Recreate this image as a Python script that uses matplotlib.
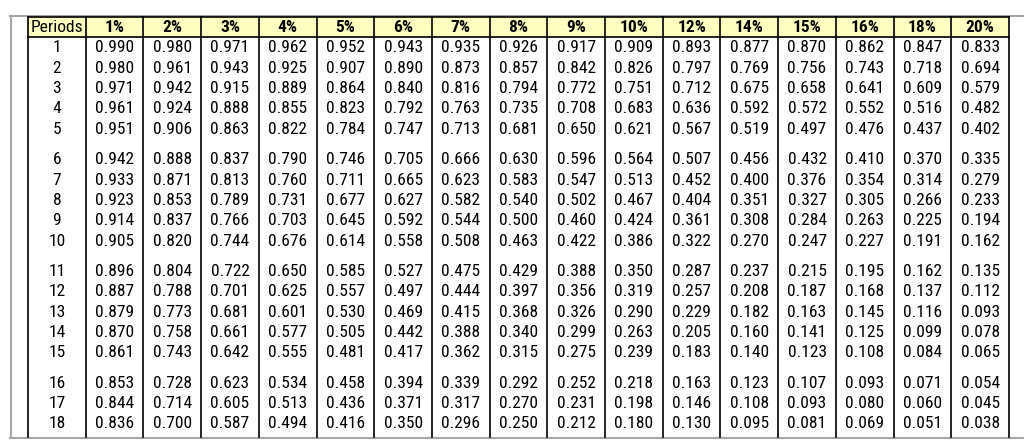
import matplotlib.pyplot as plt
from matplotlib.patches import Rectangle

plt.rcParams['font.family'] = ['Roboto Condensed', 'Liberation Sans', 'DejaVu Sans']

rates = ['1%', '2%', '3%', '4%', '5%', '6%', '7%', '8%', '9%', '10%',
         '12%', '14%', '15%', '16%', '18%', '20%']
periods = list(range(1, 19))

# present value factors, one row per period
pv = [
    [0.990, 0.980, 0.971, 0.962, 0.952, 0.943, 0.935, 0.926, 0.917, 0.909, 0.893, 0.877, 0.870, 0.862, 0.847, 0.833],
    [0.980, 0.961, 0.943, 0.925, 0.907, 0.890, 0.873, 0.857, 0.842, 0.826, 0.797, 0.769, 0.756, 0.743, 0.718, 0.694],
    [0.971, 0.942, 0.915, 0.889, 0.864, 0.840, 0.816, 0.794, 0.772, 0.751, 0.712, 0.675, 0.658, 0.641, 0.609, 0.579],
    [0.961, 0.924, 0.888, 0.855, 0.823, 0.792, 0.763, 0.735, 0.708, 0.683, 0.636, 0.592, 0.572, 0.552, 0.516, 0.482],
    [0.951, 0.906, 0.863, 0.822, 0.784, 0.747, 0.713, 0.681, 0.650, 0.621, 0.567, 0.519, 0.497, 0.476, 0.437, 0.402],
    [0.942, 0.888, 0.837, 0.790, 0.746, 0.705, 0.666, 0.630, 0.596, 0.564, 0.507, 0.456, 0.432, 0.410, 0.370, 0.335],
    [0.933, 0.871, 0.813, 0.760, 0.711, 0.665, 0.623, 0.583, 0.547, 0.513, 0.452, 0.400, 0.376, 0.354, 0.314, 0.279],
    [0.923, 0.853, 0.789, 0.731, 0.677, 0.627, 0.582, 0.540, 0.502, 0.467, 0.404, 0.351, 0.327, 0.305, 0.266, 0.233],
    [0.914, 0.837, 0.766, 0.703, 0.645, 0.592, 0.544, 0.500, 0.460, 0.424, 0.361, 0.308, 0.284, 0.263, 0.225, 0.194],
    [0.905, 0.820, 0.744, 0.676, 0.614, 0.558, 0.508, 0.463, 0.422, 0.386, 0.322, 0.270, 0.247, 0.227, 0.191, 0.162],
    [0.896, 0.804, 0.722, 0.650, 0.585, 0.527, 0.475, 0.429, 0.388, 0.350, 0.287, 0.237, 0.215, 0.195, 0.162, 0.135],
    [0.887, 0.788, 0.701, 0.625, 0.557, 0.497, 0.444, 0.397, 0.356, 0.319, 0.257, 0.208, 0.187, 0.168, 0.137, 0.112],
    [0.879, 0.773, 0.681, 0.601, 0.530, 0.469, 0.415, 0.368, 0.326, 0.290, 0.229, 0.182, 0.163, 0.145, 0.116, 0.093],
    [0.870, 0.758, 0.661, 0.577, 0.505, 0.442, 0.388, 0.340, 0.299, 0.263, 0.205, 0.160, 0.141, 0.125, 0.099, 0.078],
    [0.861, 0.743, 0.642, 0.555, 0.481, 0.417, 0.362, 0.315, 0.275, 0.239, 0.183, 0.140, 0.123, 0.108, 0.084, 0.065],
    [0.853, 0.728, 0.623, 0.534, 0.458, 0.394, 0.339, 0.292, 0.252, 0.218, 0.163, 0.123, 0.107, 0.093, 0.071, 0.054],
    [0.844, 0.714, 0.605, 0.513, 0.436, 0.371, 0.317, 0.270, 0.231, 0.198, 0.146, 0.108, 0.093, 0.080, 0.060, 0.045],
    [0.836, 0.700, 0.587, 0.494, 0.416, 0.350, 0.296, 0.250, 0.212, 0.180, 0.130, 0.095, 0.081, 0.069, 0.051, 0.038],
]

fig = plt.figure(figsize=(10.24, 4.47), dpi=100)
ax = fig.add_axes([0, 0, 1, 1])
ax.set_xlim(0, 1024)
ax.set_ylim(447, 0)
ax.axis('off')

# layout in pixels
left, right = 28, 1009
ncol = len(rates) + 1
colw = (right - left) / ncol
head_top, head_bot = 17, 37
bottom = 437

# outer grey frame
ax.plot([10, 1024], [15.5, 15.5], color='#a6a6a6', lw=1.5)
ax.plot([10, 1024], [437.5, 437.5], color='#a6a6a6', lw=1.5)
ax.plot([10.5, 10.5], [15.5, 437.5], color='#a6a6a6', lw=1.5)

# header band
ax.add_patch(Rectangle((left, head_top), right - left, head_bot - head_top,
                       facecolor='#ffffc0', edgecolor='none'))
ax.plot([left, right], [head_top, head_top], color='black', lw=1.2)
ax.plot([left, right], [head_bot, head_bot], color='black', lw=1.2)
for i in range(ncol + 1):
    x = left + i * colw
    ax.plot([x, x], [head_top, bottom], color='black', lw=1.2)

fs = 12.5
ax.text(left + colw / 2, 27, 'Periods', ha='center', va='center', fontsize=fs)
for j, r in enumerate(rates):
    ax.text(left + (j + 1.5) * colw, 27, r, ha='center', va='center',
            fontsize=fs, fontweight='bold')

for i, p in enumerate(periods):
    y = 48 + 20.3 * i + 10.3 * (i // 5)
    ax.text(left + colw / 2, y, str(p), ha='center', va='center', fontsize=fs)
    for j, v in enumerate(pv[i]):
        ax.text(left + (j + 1.5) * colw, y, f'{v:.3f}', ha='center',
                va='center', fontsize=fs)

fig.savefig('out.png', dpi=100)
